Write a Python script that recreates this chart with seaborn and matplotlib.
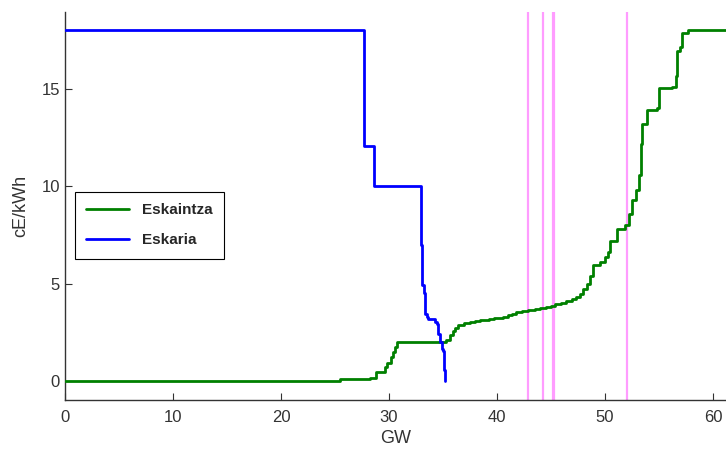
import seaborn as sns
import matplotlib.pyplot as plt
import pandas as pd

# Supply curve (Eskaintza): interval start in GW and price in cE/kWh (step-post)
supply_gw = [0, 25.5, 28.2, 28.8, 29.6, 29.85, 30.2, 30.4, 30.56, 30.7,
             35.3, 35.65, 35.9, 36.1, 36.4, 36.9, 37.5, 38.0, 38.4, 38.8,
             39.3, 39.7, 40.2, 40.6, 41.0, 41.4, 41.8, 42.3, 42.9, 43.5,
             44.0, 44.5, 45.0, 45.4, 45.9, 46.4, 46.9, 47.3, 47.7, 48.0,
             48.3, 48.6, 48.9, 49.5, 50.0, 50.3, 50.5, 51.1, 51.85, 52.2,
             52.5, 52.9, 53.1, 53.3, 53.4, 53.86, 54.8, 55.0, 56.2, 56.6,
             56.7, 56.9, 57.1, 57.7, 61.5]
supply_price = [0.0, 0.1, 0.15, 0.44, 0.7, 0.92, 1.22, 1.48, 1.74, 1.98,
                2.08, 2.34, 2.55, 2.72, 2.86, 2.98, 3.03, 3.07, 3.1, 3.13,
                3.17, 3.2, 3.25, 3.3, 3.38, 3.45, 3.52, 3.58, 3.65, 3.7,
                3.75, 3.8, 3.86, 3.93, 4.0, 4.08, 4.18, 4.3, 4.45, 4.7,
                5.0, 5.4, 5.95, 6.1, 6.35, 6.6, 7.2, 7.8, 8.0, 8.6,
                9.3, 9.8, 10.6, 12.2, 13.2, 13.95, 14.05, 15.05, 15.1, 15.7,
                17.0, 17.2, 17.9, 18.05, 18.05]

# Demand curve (Eskaria)
demand_gw = [0, 27.7, 28.6, 33.0, 33.1, 33.27, 33.36, 33.5, 33.6, 34.26,
             34.4, 34.57, 34.7, 34.88, 35.03, 35.1, 35.19]
demand_price = [18.05, 12.06, 10.05, 7.0, 4.93, 4.52, 3.44, 3.3, 3.18, 3.0,
                2.92, 2.4, 1.98, 1.63, 1.55, 0.52, 0.0]

# pink markers
vlines_gw = [42.9, 44.3, 45.15, 45.3, 52.0]

sns.set_style("ticks")
plt.rcParams['font.family'] = ['Liberation Sans', 'DejaVu Sans']

fig = plt.figure(figsize=(7.26, 4.53), dpi=100)
ax = fig.add_axes([0.0895, 0.117, 0.9105, 0.857])

for x in vlines_gw:
    ax.axvline(x, color='#ff9cff', linewidth=1.6, zorder=1)

supply = pd.DataFrame({'GW': supply_gw, 'price': supply_price})
demand = pd.DataFrame({'GW': demand_gw, 'price': demand_price})

sns.lineplot(data=supply, x='GW', y='price', sort=False, drawstyle='steps-post',
             color='#008000', linewidth=2, label='Eskaintza', ax=ax, zorder=3)
sns.lineplot(data=demand, x='GW', y='price', sort=False, drawstyle='steps-post',
             color='#0000ff', linewidth=2, label='Eskaria', ax=ax, zorder=3)

ax.set_xlim(0, 61.2)
ax.set_ylim(-1, 19)
ax.set_xticks([0, 10, 20, 30, 40, 50, 60])
ax.set_yticks([0, 5, 10, 15])
ax.tick_params(direction='in', length=5, labelsize=12, colors='#333333')
ax.tick_params(axis='x', pad=7)
sns.despine(ax=ax)
for s in ['left', 'bottom']:
    ax.spines[s].set_color('#333333')
    ax.spines[s].set_linewidth(1)

ax.set_xlabel('GW', fontsize=13, color='#333333', labelpad=4)
ax.set_ylabel('cE/kWh', fontsize=13, color='#333333', labelpad=9)

leg = ax.legend(loc='upper left', bbox_to_anchor=(0.015, 0.536), fancybox=False,
                edgecolor='black', framealpha=1, handlelength=2.8, handletextpad=0.85,
                prop={'weight': 'bold', 'size': 11}, borderpad=0.75, labelspacing=1.05,
                borderaxespad=0)
leg.get_frame().set_linewidth(0.8)

fig.savefig('out.png', dpi=100)
